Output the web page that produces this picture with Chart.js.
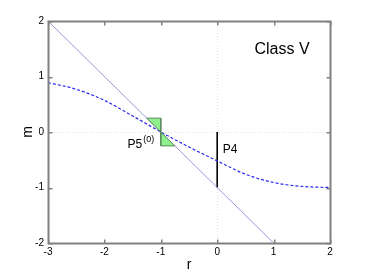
<!DOCTYPE html>
<html>
<head>
<meta charset="utf-8">
<script src="https://cdn.jsdelivr.net/npm/chart.js@4/dist/chart.umd.min.js"></script>
<style>
  html,body{margin:0;padding:0;background:#fff;}
  #wrap{width:365px;height:274px;}
</style>
</head>
<body>
<div id="wrap"><canvas id="c" width="365" height="274"></canvas></div>
<script>
// data
let curveR=[-3,-2.5,-2,-1.5,-1,-0.5,0,0.5,1,1.5,2];
let curveM=[0.89,0.77,0.57,0.29,0,-0.27,-0.52,-0.76,-0.91,-0.98,-1.0];

let lineR=[-3,1];
let lineM=[2,-2];

let p4R=[0,0];
let p4M=[0,-1];

let triUpR=[-1.25,-1,-1,-1.25];
let triUpM=[0.25,0.25,0,0.25];
let triLoR=[-1,-1,-0.75,-1];
let triLoM=[0,-0.25,-0.25,0];

let xTicks=[-3,-2,-1,0,1,2];
let yTicks=[-2,-1,0,1,2];

// text labels (data coordinates)
let notes=[
  {text:"Class V",r:0.66,m:1.48,size:16},
  {text:"P4",r:0.1,m:-0.31,size:12},
  {text:"P5",r:-1.59,m:-0.23,size:12,sup:"(0)"}
];

const fontFam='"Liberation Sans", Arial, Helvetica, sans-serif';

function pts(xs,ys){return xs.map((x,i)=>({x:x,y:ys[i]}));}

const boxPlugin={
  id:"box",
  beforeDatasetsDraw(chart){
    const ctx=chart.ctx, a=chart.chartArea;
    const xs=chart.scales.x, ys=chart.scales.y;
    ctx.save();
    ctx.strokeStyle="#e2e2e2";
    ctx.lineWidth=1;
    ctx.setLineDash([1,2]);
    let px=Math.round(xs.getPixelForValue(0))+0.5;
    let py=Math.round(ys.getPixelForValue(0))+0.5;
    ctx.beginPath();
    ctx.moveTo(px,a.top);ctx.lineTo(px,a.bottom);
    ctx.moveTo(a.left,py);ctx.lineTo(a.right,py);
    ctx.stroke();
    ctx.restore();
  },
  afterDraw(chart){
    const ctx=chart.ctx;
    const xs=chart.scales.x, ys=chart.scales.y;
    ctx.save();
    ctx.fillStyle="#000";
    ctx.textBaseline="middle";
    ctx.textAlign="left";
    notes.forEach(n=>{
      let x=xs.getPixelForValue(n.r), y=ys.getPixelForValue(n.m);
      ctx.font=n.size+"px "+fontFam;
      ctx.fillText(n.text,x,y);
      if(n.sup){
        let w=ctx.measureText(n.text).width;
        ctx.font="9px "+fontFam;
        ctx.fillText(n.sup,x+w+1,y-5);
      }
    });
    // axes box + inward ticks
    let L=Math.round(xs.getPixelForValue(xs.min))+0.5;
    let Rt=Math.round(xs.getPixelForValue(xs.max))+0.5;
    let T=Math.round(ys.getPixelForValue(ys.max))+0.5;
    let B=Math.round(ys.getPixelForValue(ys.min))+0.5;
    ctx.strokeStyle="#808080";
    ctx.lineWidth=2;
    ctx.setLineDash([]);
    ctx.strokeRect(L,T,Rt-L,B-T);
    ctx.fillStyle="#808080";
    xTicks.forEach(v=>{
      let x=Math.round(xs.getPixelForValue(v));
      ctx.fillRect(x,B-4,1.5,4);
      ctx.fillRect(x,T,1.5,4);
    });
    yTicks.forEach(v=>{
      let y=Math.round(ys.getPixelForValue(v));
      ctx.fillRect(L,y,4,1.5);
      ctx.fillRect(Rt-4,y,4,1.5);
    });
    ctx.restore();
  }
};

new Chart(document.getElementById("c"),{
  type:"scatter",
  data:{
    datasets:[
      {data:pts(triUpR,triUpM),showLine:true,fill:"shape",backgroundColor:"#8ef08e",borderColor:"#5d8a5d",borderWidth:1,pointRadius:0,tension:0},
      {data:pts(triLoR,triLoM),showLine:true,fill:"shape",backgroundColor:"#8ef08e",borderColor:"#5d8a5d",borderWidth:1,pointRadius:0,tension:0},
      {data:pts(lineR,lineM),showLine:true,borderColor:"rgba(120,120,205,0.75)",borderWidth:1,pointRadius:0},
      {data:pts(curveR,curveM),showLine:true,borderColor:"#2b2bf0",borderWidth:1.2,borderDash:[3,2],pointRadius:0,cubicInterpolationMode:"monotone"},
      {data:pts(p4R,p4M),showLine:true,borderColor:"#000",borderWidth:1.6,pointRadius:0}
    ]
  },
  options:{
    responsive:false,
    animation:false,
    layout:{padding:{left:0,right:35,top:21,bottom:0}},
    plugins:{legend:{display:false},tooltip:{enabled:false}},
    scales:{
      x:{
        type:"linear",min:-3,max:2,
        afterFit(s){s.height=31;},
        afterBuildTicks(s){s.ticks=xTicks.map(v=>({value:v}));},
        grid:{display:false,drawTicks:false},
        border:{display:false},
        ticks:{color:"#000",font:{family:fontFam,size:10},padding:3,maxRotation:0},
        title:{display:true,text:"r",color:"#000",font:{family:fontFam,size:14},padding:{top:0,bottom:0}}
      },
      y:{
        type:"linear",min:-2,max:2,
        afterFit(s){s.width=48;},
        afterBuildTicks(s){s.ticks=yTicks.map(v=>({value:v}));},
        grid:{display:false,drawTicks:false},
        border:{display:false},
        ticks:{color:"#000",font:{family:fontFam,size:10},padding:4},
        title:{display:true,text:"m",color:"#000",font:{family:fontFam,size:14},padding:{top:20,bottom:0}}
      }
    }
  },
  plugins:[boxPlugin]
});
</script>
</body>
</html>
